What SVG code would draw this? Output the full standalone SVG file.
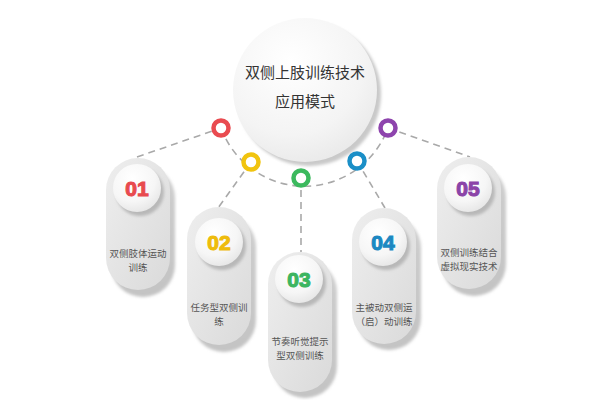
<svg xmlns="http://www.w3.org/2000/svg" width="600" height="400" viewBox="0 0 600 400">
<defs>
  <linearGradient id="cardG" x1="0" y1="0" x2="1" y2="1">
    <stop offset="0" stop-color="#eeeeee"/>
    <stop offset="1" stop-color="#dadada"/>
  </linearGradient>
  <linearGradient id="cardS" x1="0" y1="0" x2="0" y2="1">
    <stop offset="0" stop-color="#cfcfcf"/>
    <stop offset="1" stop-color="#c3c3c3"/>
  </linearGradient>
  <radialGradient id="badgeG" cx="0.4" cy="0.3" r="0.8">
    <stop offset="0" stop-color="#ffffff"/>
    <stop offset="0.6" stop-color="#f6f6f6"/>
    <stop offset="1" stop-color="#e2e2e2"/>
  </radialGradient>
  <radialGradient id="bigG" cx="0.4" cy="0.3" r="0.85">
    <stop offset="0" stop-color="#ffffff"/>
    <stop offset="0.6" stop-color="#f4f4f4"/>
    <stop offset="1" stop-color="#e4e4e4"/>
  </radialGradient>
  <filter id="soft" x="-20%" y="-20%" width="140%" height="140%">
    <feGaussianBlur stdDeviation="1.5"/>
  </filter>
</defs>
<style>
  .dash { fill: none; stroke: #a9a9a9; stroke-width: 1.6; stroke-dasharray: 7 5; }
  .ring { fill: #ffffff; stroke-width: 4.5; }
  .card { fill: url(#cardG); }
  .cardShadow { fill: url(#cardS); filter: url(#soft); }
  .badge { fill: url(#badgeG); }
  .badgeShadow { fill: #b8b8b8; filter: url(#soft); }
  .num { font-family: "Liberation Sans", "DejaVu Sans", sans-serif; font-weight: bold; font-size: 21px; text-anchor: middle; stroke-width: 1.1; }
  .label { font-family: "Noto Sans CJK SC", "DejaVu Sans", sans-serif; font-size: 9.5px; fill: #555555; text-anchor: middle; }
  .title { font-family: "Noto Sans CJK SC", "DejaVu Sans", sans-serif; font-size: 15px; fill: #333333; text-anchor: middle; }
</style>

<rect width="600" height="400" fill="#ffffff"/>

<g id="connectors">
  <path class="dash" d="M 221 128 A 89 89 0 0 0 388 128"/>
  <line class="dash" x1="137" y1="157" x2="221" y2="128"/>
  <line class="dash" x1="251" y1="162" x2="218" y2="208"/>
  <line class="dash" x1="301" y1="178" x2="301" y2="252"/>
  <line class="dash" x1="357" y1="161" x2="385" y2="208"/>
  <line class="dash" x1="388" y1="128" x2="470" y2="157"/>
</g>

<g id="center">
  <circle cx="309" cy="94" r="72" fill="#c9c9c9" filter="url(#soft)"/>
  <circle cx="305" cy="90" r="72" fill="url(#bigG)"/>
  <text class="title" x="305" y="78">双侧上肢训练技术</text>
  <text class="title" x="305" y="107">应用模式</text>
</g>

<g id="rings">
  <circle class="ring" cx="221" cy="128" r="7.5" stroke="#e94b50"/>
  <circle class="ring" cx="251" cy="162" r="7.5" stroke="#f1c40f"/>
  <circle class="ring" cx="301" cy="178" r="7.5" stroke="#3cb95e"/>
  <circle class="ring" cx="357" cy="161" r="7.5" stroke="#1b8fc7"/>
  <circle class="ring" cx="388" cy="128" r="7.5" stroke="#8e44ad"/>
</g>

<g id="node1">
  <rect class="cardShadow" x="111" y="166" width="64" height="131" rx="32"/>
  <rect class="card" x="106" y="158" width="64" height="132" rx="32"/>
  <circle class="badgeShadow" cx="140" cy="192" r="24"/>
  <circle class="badge" cx="137" cy="188" r="24"/>
  <text class="num" x="137" y="196" fill="#e84a4f" stroke="#e84a4f">01</text>
  <text class="label" x="138" y="257">双侧肢体运动</text>
  <text class="label" x="138" y="271">训练</text>
</g>

<g id="node2">
  <rect class="cardShadow" x="192" y="215" width="64" height="137" rx="32"/>
  <rect class="card" x="187" y="207" width="64" height="138" rx="32"/>
  <circle class="badgeShadow" cx="222" cy="246" r="24"/>
  <circle class="badge" cx="219" cy="242" r="24"/>
  <text class="num" x="219" y="250" fill="#eebc0c" stroke="#eebc0c">02</text>
  <text class="label" x="219" y="311">任务型双侧训</text>
  <text class="label" x="219" y="325">练</text>
</g>

<g id="node3">
  <rect class="cardShadow" x="273" y="260" width="64" height="138" rx="32"/>
  <rect class="card" x="268" y="252" width="64" height="140" rx="32"/>
  <circle class="badgeShadow" cx="302" cy="283" r="24"/>
  <circle class="badge" cx="299" cy="279" r="24"/>
  <text class="num" x="299" y="287" fill="#3cb560" stroke="#3cb560">03</text>
  <text class="label" x="300" y="345">节奏听觉提示</text>
  <text class="label" x="300" y="359">型双侧训练</text>
</g>

<g id="node4">
  <rect class="cardShadow" x="357" y="216" width="64" height="134" rx="32"/>
  <rect class="card" x="352" y="208" width="64" height="136" rx="32"/>
  <circle class="badgeShadow" cx="386" cy="246" r="24"/>
  <circle class="badge" cx="383" cy="242" r="24"/>
  <text class="num" x="383" y="250" fill="#1b88c2" stroke="#1b88c2">04</text>
  <text class="label" x="384" y="311">主被动双侧运</text>
  <text class="label" x="384" y="325">（启）动训练</text>
</g>

<g id="node5">
  <rect class="cardShadow" x="442" y="165" width="64" height="131" rx="32"/>
  <rect class="card" x="437" y="157" width="64" height="132" rx="32"/>
  <circle class="badgeShadow" cx="471" cy="192" r="24"/>
  <circle class="badge" cx="468" cy="188" r="24"/>
  <text class="num" x="468" y="196" fill="#8b44a8" stroke="#8b44a8">05</text>
  <text class="label" x="469" y="256">双侧训练结合</text>
  <text class="label" x="469" y="270">虚拟现实技术</text>
</g>
</svg>
